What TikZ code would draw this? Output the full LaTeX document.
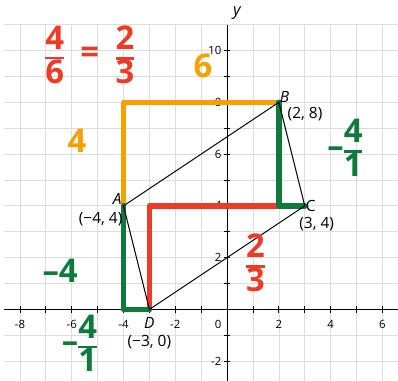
\documentclass[tikz,border=0pt]{standalone}
\usepackage{fontspec}
\setmainfont{Open Sans}
\usetikzlibrary{positioning}
\definecolor{slopeOrange}{HTML}{F8A000}
\definecolor{slopeRed}{HTML}{EE3A26}
\definecolor{slopeGreen}{HTML}{0E7A3B}
\definecolor{gridGray}{HTML}{DDDDDD}
\newcommand{\handfrac}[2]{{\setlength{\arrayrulewidth}{3pt}\renewcommand{\arraystretch}{0.8}\begin{tabular}{@{}c@{}}#1\\\hline #2\end{tabular}}}

\begin{document}
\begin{tikzpicture}[x=1cm,y=1cm,
    gridline/.style={draw=gridGray,line width=0.8pt},
    axis/.style={draw=black,line width=0.9pt},
    tick/.style={font=\fontsize{12.5}{14}\selectfont,inner sep=1pt},
    ptlabel/.style={font=\fontsize{17}{19}\selectfont,inner sep=1pt},
    side/.style={draw=black,line width=1.1pt},
    rise/.style={line width=6pt,line cap=round,line join=round},
    hand/.style={font=\fontsize{36}{34}\selectfont\bfseries,inner sep=0pt}]
  \useasboundingbox (-8.77,-2.75) rectangle (6.6,11.95);
  % grid and axes
  \draw[gridline] (-8.6,-2.75) grid (6.6,11);
  \draw[axis] (-8.6,0) -- (6.6,0);
  \draw[axis] (0,-2.75) -- (0,11);
  \foreach \t in {-8,...,6} \draw[axis] (\t,-0.12) -- (\t,0.12);
  \foreach \t in {-2,...,10} \draw[axis] (-0.12,\t) -- (0.12,\t);
  \foreach \t in {-8,-6,-4,-2,2,4,6} \node[tick] at (\t,-0.58) {\t};
  \foreach \t in {-2,2,4,6,8,10} \node[tick,anchor=east] at (-0.18,\t) {\t};
  \node[tick] (zero) at (-0.35,-0.58) {0};
  \node[font=\itshape\fontsize{18}{20}\selectfont,inner sep=0pt] (ylab) at (0.38,11.45) {y};

  % vertices and corners
  \coordinate (A) at (-4,4);
  \coordinate (B) at (2,8);
  \coordinate (C) at (3,4);
  \coordinate (D) at (-3,0);
  \coordinate (Atop) at (-4,8);
  \coordinate (Afoot) at (-4,0);
  \coordinate (Dtop) at (-3,4);
  \coordinate (Bfoot) at (2,4);

  % rise and run
  \draw[rise,slopeOrange] (A) -- (Atop) -- (B);
  \draw[rise,slopeRed] (D) -- (Dtop) -- (C);
  \draw[rise,slopeGreen] (B) -- (Bfoot) -- (C);
  \draw[rise,slopeGreen] (A) -- (Afoot) -- (D);

  % parallelogram
  \draw[side] (A) -- (B) -- (C) -- (D) -- cycle;

  % labels
  \node[ptlabel,above left=0pt and 1pt of A] (Alab) {\itshape A};
  \node[ptlabel,below left=0.2cm and 0cm of A] (Acoord) {(−4, 4)};
  \node[ptlabel,above right=-1pt and 0pt of B] (Blab) {\itshape B};
  \node[ptlabel,below right=0.15cm and 0.3cm of B] (Bcoord) {(2, 8)};
  \node[ptlabel,right=0pt of C] (Clab) {C};
  \node[ptlabel,below right=0.4cm and -0.25cm of C] (Ccoord) {(3, 4)};
  \node[ptlabel,below=0.25cm of D] (Dlab) {\itshape D};
  \node[ptlabel,below=0.95cm of D] (Dcoord) {(−3, 0)};

  % hand notes
  \node[hand,slopeRed] (ratio) at (-5.3,9.7) {\handfrac{4}{6}\enspace=\enspace\handfrac{2}{3}};
  \node[hand,slopeOrange] (runB) at (-0.93,9.4) {6};
  \node[hand,slopeOrange] (riseA) at (-5.8,6.5) {4};
  \node[hand,slopeGreen] (slopeBC) at (4.55,6.1) {–\handfrac{4}{1}};
  \node[hand,slopeGreen] (riseAD) at (-6.45,1.5) {–4};
  \node[hand,slopeGreen] (slopeAD) at (-5.7,-1.45) {–\handfrac{4}{1}};
  \node[hand,slopeRed] (slopeDC) at (1.1,1.65) {\handfrac{2}{3}};
\end{tikzpicture}
\end{document}
